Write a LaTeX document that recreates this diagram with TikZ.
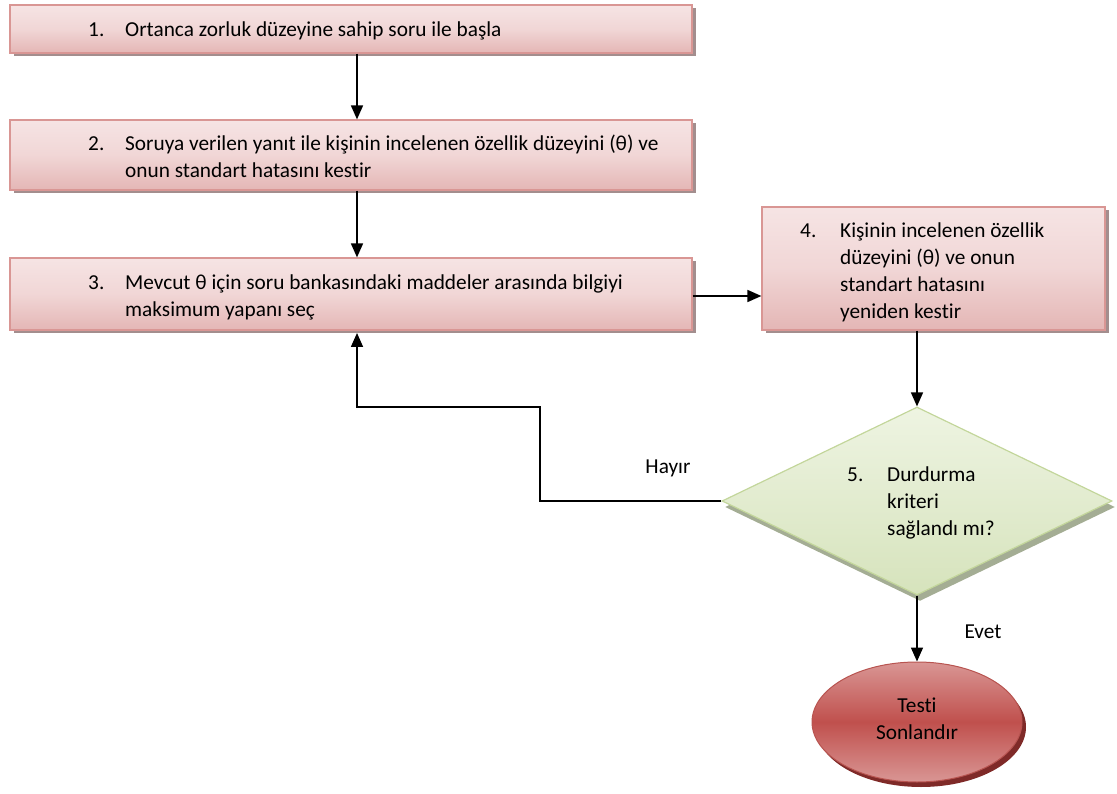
\documentclass[tikz,border=0pt]{standalone}
\usepackage{fontspec}
\setmainfont{Carlito}[Ligatures=NoCommon]
\usetikzlibrary{shapes.geometric,shadows,arrows.meta}
\definecolor{boxborder}{HTML}{D99694}
\definecolor{boxtop}{HTML}{F6E4E4}
\definecolor{boxbot}{HTML}{E4B6B5}
\definecolor{boxshadow}{HTML}{A38E8E}
\definecolor{dmborder}{HTML}{C3D69B}
\definecolor{dmtop}{HTML}{EEF4E2}
\definecolor{dmbot}{HTML}{D6E3BC}
\definecolor{dmshadow}{HTML}{A4AD94}
\definecolor{elborder}{HTML}{B85450}
\definecolor{elmid}{HTML}{C0504D}
\definecolor{eledge}{HTML}{D99694}
\definecolor{elshadow}{HTML}{7F2A28}
\newcommand{\itemtxt}[2]{{\fontsize{21.3}{27}\selectfont\begin{tabular}{@{}p{#1}@{}l@{}}#2\end{tabular}}}
\tikzset{
  box/.style={draw=boxborder, line width=1.2pt, top color=boxtop, bottom color=boxbot, middle color=boxtop!70!boxbot,
    drop shadow={shadow xshift=3.5pt, shadow yshift=-3.5pt, fill=boxshadow, opacity=1}, inner sep=0pt},
  txt/.style={inner sep=0pt, anchor=west, align=left},
  arr/.style={line width=1.6pt, -{Triangle[length=14pt,width=12pt]}},
  lbl/.style={inner sep=0pt, font=\fontsize{21.3}{25}\selectfont}
}
\begin{document}
\begin{tikzpicture}[x=1pt,y=-1pt]
\useasboundingbox (0,0) rectangle (1117,794);
% boxes
\node[box, minimum width=682pt, minimum height=48pt] (b1) at (351,29) {};
\node[box, minimum width=682pt, minimum height=70pt] (b2) at (351,155) {};
\node[box, minimum width=682pt, minimum height=72pt] (b3) at (351,294) {};
\node[box, minimum width=343pt, minimum height=123pt] (b4) at (933.5,268.5) {};
\node[draw=dmborder, line width=1.2pt, top color=dmtop, bottom color=dmbot, shape=diamond, inner sep=0pt,
  minimum width=390pt, minimum height=188pt,
  drop shadow={shadow xshift=3pt, shadow yshift=-6pt, fill=dmshadow, opacity=1}] (d5) at (917,501) {};
\node[draw=elborder, line width=1pt, ellipse, top color=eledge, bottom color=eledge, middle color=elmid,
  minimum width=210pt, minimum height=120pt, inner sep=0pt,
  drop shadow={shadow xshift=4pt, shadow yshift=-5pt, fill=elshadow, opacity=1}] (e6) at (917,722) {};
% texts
\node[txt] (t1) at (88,31) {\itemtxt{37pt}{1. & Ortanca zorluk düzeyine sahip soru ile başla}};
\node[txt] (t2) at (88,159) {\itemtxt{37pt}{2. & Soruya verilen yanıt ile kişinin incelenen özellik düzeyini (θ) ve\\ & onun standart hatasını kestir}};
\node[txt] (t3) at (88,298) {\itemtxt{37pt}{3. & Mevcut θ için soru bankasındaki maddeler arasında bilgiyi\\ & maksimum yapanı seç}};
\node[txt] (t4) at (800,273) {\itemtxt{40pt}{4. & Kişinin incelenen özellik\\ & düzeyini (θ) ve onun\\ & standart hatasını\\ & yeniden kestir}};
\node[txt] (t5) at (847,503) {\itemtxt{40pt}{5. & Durdurma\\ & kriteri\\ & sağlandı mı?}};
\node[inner sep=0pt, align=center, font=\fontsize{21.3}{27}\selectfont] (t6) at (917,719) {Testi\\Sonlandır};
\node[lbl] (hayir) at (668,468) {Hayır};
\node[lbl] (evet) at (983,632) {Evet};
% connectors
\draw[arr] (b1.south -| 357,0) -- (b2.north -| 357,0);
\draw[arr] (b2.south -| 357,0) -- (b3.north -| 357,0);
\draw[arr] (b3.east |- 0,296) -- (b4.west |- 0,296);
\coordinate (c1) at (540,407);
\draw[arr] (d5.west) -- (c1 |- d5.west) -- (c1) -- (357,407) -- (357,333);
\draw[arr] (b4.south -| d5.north) -- (d5.north);
\draw[arr] (d5.south) -- (e6.north);
\end{tikzpicture}
\end{document}
